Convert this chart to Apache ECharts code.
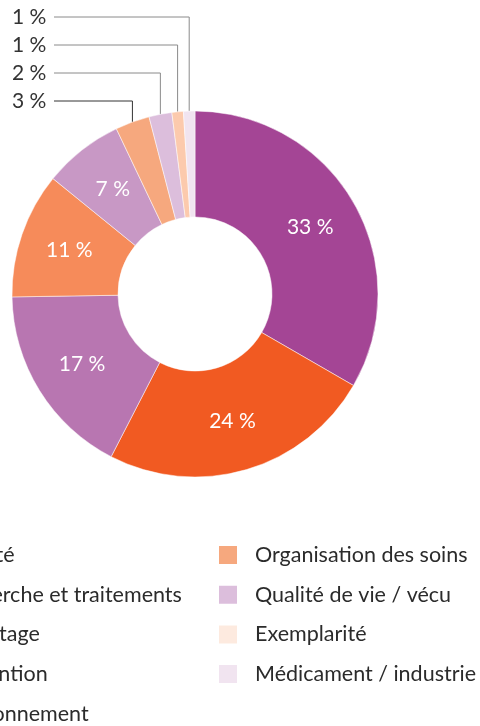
<!DOCTYPE html>
<html>
<head>
<meta charset="utf-8">
<script src="https://cdn.jsdelivr.net/npm/echarts@6/dist/echarts.min.js"></script>
<style>
  html, body { margin: 0; padding: 0; background: #fff; }
  #chart { width: 480px; height: 726px; }
</style>
</head>
<body>
<div id="chart"></div>
<script>
const categories = [
  "Société",
  "Recherche et traitements",
  "Dépistage",
  "Prévention",
  "Environnement",
  "Organisation des soins",
  "Qualité de vie / vécu",
  "Exemplarité",
  "Médicament / industrie"
];
const values = [33, 24, 17, 11, 7, 3, 2, 1, 1];
const colors = [
  "#a44595", "#f15a22", "#b876b1", "#f68b5a", "#c898c5",
  "#f6a87e", "#dcbedc", "#fccaad", "#f1e4f0"
];
// legend swatch for "Exemplarité" is paler than its slice
const legendColors = colors.slice();
legendColors[7] = "#fdeadf";

const FONT = "Lato";
const SMALL_FROM = 5; // slices labelled outside, with leader lines

const chart = echarts.init(document.getElementById("chart"));

const data = values.map((v, i) => {
  const item = {
    name: categories[i],
    value: v,
    itemStyle: { color: colors[i] }
  };
  if (i >= SMALL_FROM) {
    item.label = { position: "outside", color: "#333" };
    item.labelLine = {
      show: true,
      length: 8,
      length2: 8,
      lineStyle: { color: i === SMALL_FROM ? "#333" : "#8a8a8a", width: 1 }
    };
  }
  return item;
});

function legendData(from, to) {
  return categories.slice(from, to).map((name, k) => ({
    name: name,
    itemStyle: { color: legendColors[from + k] }
  }));
}

const legendBase = {
  orient: "vertical",
  top: 544,
  height: 260,
  icon: "rect",
  itemWidth: 20,
  itemHeight: 20,
  itemGap: 17.7,
  padding: 0,
  selectedMode: false,
  formatter: name => "{t|" + name + "}",
  textStyle: {
    rich: {
      t: {
        fontFamily: FONT,
        fontSize: 21.5,
        lineHeight: 20,
        color: "#2b2b2b",
        padding: [0, 0, 0, 12]
      }
    }
  }
};

chart.setOption({
  animation: false,
  legend: [
    Object.assign({}, legendBase, { left: -93, data: legendData(0, 5) }),
    Object.assign({}, legendBase, { left: 217, data: legendData(5, 9) })
  ],
  series: [
    {
      type: "pie",
      center: [195, 294],
      radius: [77, 183],
      startAngle: 90,
      clockwise: true,
      avoidLabelOverlap: false,
      itemStyle: { borderColor: "#fff", borderWidth: 0.5 },
      label: {
        show: true,
        position: "inside",
        formatter: "{c} %",
        fontFamily: FONT,
        fontSize: 21,
        color: "#fff"
      },
      labelLayout: function (p) {
        if (p.dataIndex < SMALL_FROM || !p.labelLinePoints) return {};
        const k = p.dataIndex - SMALL_FROM;
        const y = 101 - k * 28;
        const start = p.labelLinePoints[0];
        return {
          x: 12,
          y: y,
          align: "left",
          verticalAlign: "middle",
          labelLinePoints: [
            [start[0], start[1]],
            [start[0], y],
            [54, y]
          ]
        };
      },
      emphasis: { disabled: true },
      data: data
    }
  ]
});
</script>
</body>
</html>
